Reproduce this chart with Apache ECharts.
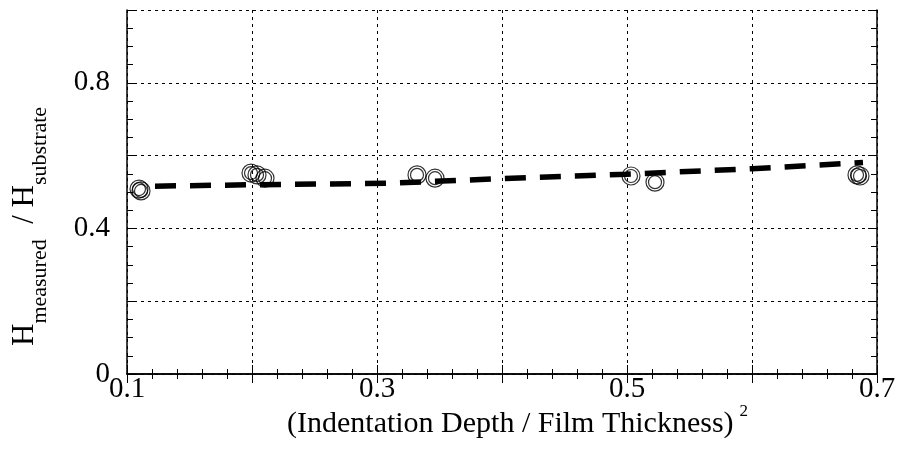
<!DOCTYPE html>
<html>
<head>
<meta charset="utf-8">
<script src="https://cdn.jsdelivr.net/npm/echarts@6/dist/echarts.min.js"></script>
<style>
  html, body { margin: 0; padding: 0; background: #fff; }
  #chart { width: 898px; height: 450px; }
</style>
</head>
<body>
<div id="chart"></div>
<script>
// Measured hardness ratio vs. squared relative indentation depth
const depthRatio    = [0.1096, 0.1112, 0.1992, 0.2040, 0.2104, 0.3320, 0.3464, 0.5032, 0.5224, 0.6840, 0.6864];
const hardnessRatio = [0.508,  0.503,  0.552,  0.547,  0.538,  0.547,  0.538,  0.544,  0.527,  0.547,  0.544];

// Fitted trend (dashed curve)
const fitX = [0.1224, 0.2, 0.31, 0.4, 0.5, 0.6, 0.6888];
const fitY = [0.516, 0.520, 0.524, 0.537, 0.549, 0.564, 0.581];

// Labelled ticks
const xTickLabels = [0.1, 0.3, 0.5, 0.7];
const yTickLabels = [0, 0.4, 0.8];

const FONT = '"Liberation Serif", "Times New Roman", Times, serif';

const points = depthRatio.map((x, i) => [x, hardnessRatio[i]]);
const fitLine = fitX.map((x, i) => [x, fitY[i]]);

const labelFor = (list) => (v) => {
  const hit = list.find(t => Math.abs(t - v) < 1e-6);
  return hit === undefined ? '' : String(hit);
};

const frame = { show: true, lineStyle: { color: '#000', width: 1.5 } };
const grid = { lineStyle: { color: '#000', width: 1, type: [3, 4] } };

function xAxisDef(main) {
  return {
    type: 'value', min: 0.1, max: 0.7, interval: 0.1,
    position: main ? 'bottom' : 'top',
    axisLine: frame,
    axisTick: { show: true, inside: true, length: 9, lineStyle: { color: '#000', width: 1 } },
    minorTick: { show: true, splitNumber: 5, length: 5, lineStyle: { color: '#000', width: 1 } },
    axisLabel: main ? {
      show: true, margin: 1, color: '#000', fontFamily: FONT, fontSize: 29,
      formatter: labelFor(xTickLabels), showMinLabel: true, showMaxLabel: true
    } : { show: false },
    splitLine: main ? grid : { show: false }
  };
}

function yAxisDef(main) {
  return {
    type: 'value', min: 0, max: 1.0, interval: 0.2,
    position: main ? 'left' : 'right',
    axisLine: frame,
    axisTick: { show: true, inside: true, length: 9, lineStyle: { color: '#000', width: 1 } },
    minorTick: { show: true, splitNumber: 4, length: 6, lineStyle: { color: '#000', width: 1 } },
    axisLabel: main ? {
      show: true, margin: 17, color: '#000', fontFamily: FONT, fontSize: 29,
      formatter: labelFor(yTickLabels), showMinLabel: true, showMaxLabel: true
    } : { show: false },
    splitLine: main ? grid : { show: false }
  };
}

const chart = echarts.init(document.getElementById('chart'), null, { renderer: 'canvas' });

chart.setOption({
  animation: false,
  backgroundColor: '#fff',
  grid: { left: 127, right: 21, top: 10, bottom: 76, containLabel: false, outerBoundsMode: 'none' },
  xAxis: [xAxisDef(true), xAxisDef(false)],
  yAxis: [yAxisDef(true), yAxisDef(false)],
  graphic: [
    {
      type: 'text',
      x: 287, y: 421,
      style: {
        text: '{m|(Indentation Depth / Film Thickness)}{s|2}',
        align: 'left', verticalAlign: 'middle',
        rich: {
          m: { fontFamily: FONT, fontSize: 30, fill: '#000', lineHeight: 36, verticalAlign: 'bottom' },
          s: { fontFamily: FONT, fontSize: 17, fill: '#000', lineHeight: 17, verticalAlign: 'top', padding: [0, 0, 0, 6] }
        }
      }
    },
    {
      type: 'text',
      x: 30, y: 346,
      rotation: Math.PI / 2,
      style: {
        text: '{h|H}{b|measured}{h|  / H}{b|substrate}',
        align: 'left', verticalAlign: 'middle',
        rich: {
          h: { fontFamily: FONT, fontSize: 31, fill: '#000', lineHeight: 42, verticalAlign: 'top' },
          b: { fontFamily: FONT, fontSize: 22, fill: '#000', lineHeight: 22, verticalAlign: 'bottom' }
        }
      }
    }
  ],
  series: [
    {
      type: 'scatter', data: points, symbol: 'circle', symbolSize: 18,
      itemStyle: { color: 'rgba(0,0,0,0)', borderColor: '#000', borderWidth: 1.2 }, z: 3
    },
    {
      type: 'scatter', data: points, symbol: 'circle', symbolSize: 13,
      itemStyle: { color: 'rgba(0,0,0,0)', borderColor: '#000', borderWidth: 1.2 }, z: 3
    },
    {
      type: 'line', data: fitLine, showSymbol: false, symbol: 'none', smooth: false,
      lineStyle: { color: '#000', width: 5.5, type: [21, 14], cap: 'butt' }, z: 4
    }
  ]
});
</script>
</body>
</html>
